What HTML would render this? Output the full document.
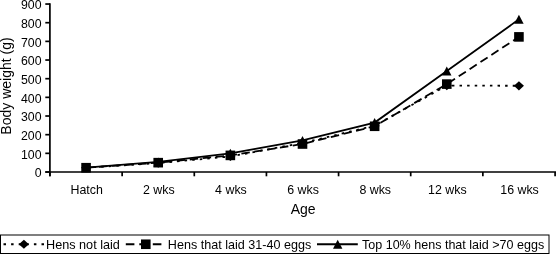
<!DOCTYPE html><html><head><meta charset="utf-8"><style>html,body{margin:0;padding:0;background:#fff;}svg{display:block;will-change:transform;}text{font-family:"Liberation Sans",sans-serif;fill:#000;}</style></head><body>
<svg width="556" height="254" viewBox="0 0 556 254">
<rect width="556" height="254" fill="#fff"/>
<line x1="49.9" y1="3.3" x2="49.9" y2="176.3" stroke="#000" stroke-width="1.7"/>
<line x1="45.3" y1="172.0" x2="556.0" y2="172.0" stroke="#000" stroke-width="1.7"/>
<line x1="45.3" y1="172.00" x2="49.9" y2="172.00" stroke="#000" stroke-width="1.7"/>
<text x="41.5" y="177.30" font-size="12.3" text-anchor="end">0</text>
<line x1="45.3" y1="153.34" x2="49.9" y2="153.34" stroke="#000" stroke-width="1.7"/>
<text x="41.5" y="158.64" font-size="12.3" text-anchor="end">100</text>
<line x1="45.3" y1="134.68" x2="49.9" y2="134.68" stroke="#000" stroke-width="1.7"/>
<text x="41.5" y="139.98" font-size="12.3" text-anchor="end">200</text>
<line x1="45.3" y1="116.01" x2="49.9" y2="116.01" stroke="#000" stroke-width="1.7"/>
<text x="41.5" y="121.31" font-size="12.3" text-anchor="end">300</text>
<line x1="45.3" y1="97.35" x2="49.9" y2="97.35" stroke="#000" stroke-width="1.7"/>
<text x="41.5" y="102.65" font-size="12.3" text-anchor="end">400</text>
<line x1="45.3" y1="78.69" x2="49.9" y2="78.69" stroke="#000" stroke-width="1.7"/>
<text x="41.5" y="83.99" font-size="12.3" text-anchor="end">500</text>
<line x1="45.3" y1="60.03" x2="49.9" y2="60.03" stroke="#000" stroke-width="1.7"/>
<text x="41.5" y="65.33" font-size="12.3" text-anchor="end">600</text>
<line x1="45.3" y1="41.37" x2="49.9" y2="41.37" stroke="#000" stroke-width="1.7"/>
<text x="41.5" y="46.67" font-size="12.3" text-anchor="end">700</text>
<line x1="45.3" y1="22.70" x2="49.9" y2="22.70" stroke="#000" stroke-width="1.7"/>
<text x="41.5" y="28.00" font-size="12.3" text-anchor="end">800</text>
<line x1="45.3" y1="4.04" x2="49.9" y2="4.04" stroke="#000" stroke-width="1.7"/>
<text x="41.5" y="9.34" font-size="12.3" text-anchor="end">900</text>
<line x1="49.90" y1="172.0" x2="49.90" y2="176.3" stroke="#000" stroke-width="1.7"/>
<line x1="122.14" y1="172.0" x2="122.14" y2="176.3" stroke="#000" stroke-width="1.7"/>
<line x1="194.29" y1="172.0" x2="194.29" y2="176.3" stroke="#000" stroke-width="1.7"/>
<line x1="266.43" y1="172.0" x2="266.43" y2="176.3" stroke="#000" stroke-width="1.7"/>
<line x1="338.57" y1="172.0" x2="338.57" y2="176.3" stroke="#000" stroke-width="1.7"/>
<line x1="410.71" y1="172.0" x2="410.71" y2="176.3" stroke="#000" stroke-width="1.7"/>
<line x1="482.86" y1="172.0" x2="482.86" y2="176.3" stroke="#000" stroke-width="1.7"/>
<line x1="555.10" y1="172.0" x2="555.10" y2="176.3" stroke="#000" stroke-width="1.7"/>
<text x="86.67" y="193.75" font-size="12.4" text-anchor="middle">Hatch</text>
<text x="158.81" y="193.75" font-size="12.4" text-anchor="middle">2 wks</text>
<text x="230.96" y="193.75" font-size="12.4" text-anchor="middle">4 wks</text>
<text x="303.10" y="193.75" font-size="12.4" text-anchor="middle">6 wks</text>
<text x="375.24" y="193.75" font-size="12.4" text-anchor="middle">8 wks</text>
<text x="447.39" y="193.75" font-size="12.4" text-anchor="middle">12 wks</text>
<text x="519.53" y="193.75" font-size="12.4" text-anchor="middle">16 wks</text>
<text x="303.2" y="213.6" font-size="14" text-anchor="middle">Age</text>
<text transform="translate(10.9,86) rotate(-90)" font-size="14" text-anchor="middle">Body weight (g)</text>
<polyline points="86.07,167.71 158.21,163.04 230.36,156.51 302.50,142.89 374.64,125.72 446.79,85.59 518.93,85.78" fill="none" stroke="#000" stroke-width="1.8" stroke-dasharray="2.5 5.1"/>
<polyline points="86.07,167.71 158.21,162.67 230.36,155.39 302.50,144.01 374.64,126.28 446.79,84.10 518.93,36.89" fill="none" stroke="#000" stroke-width="1.8" stroke-dasharray="8.5 4.5"/>
<polyline points="86.07,167.71 158.21,161.92 230.36,153.34 302.50,140.46 374.64,122.55 446.79,71.04 518.93,19.34" fill="none" stroke="#000" stroke-width="1.8"/>
<polygon points="86.07,163.11 91.07,167.71 86.07,172.31 81.07,167.71" fill="#000"/>
<polygon points="158.21,158.44 163.21,163.04 158.21,167.64 153.21,163.04" fill="#000"/>
<polygon points="230.36,151.91 235.36,156.51 230.36,161.11 225.36,156.51" fill="#000"/>
<polygon points="302.50,138.29 307.50,142.89 302.50,147.49 297.50,142.89" fill="#000"/>
<polygon points="374.64,121.12 379.64,125.72 374.64,130.32 369.64,125.72" fill="#000"/>
<polygon points="446.79,80.99 451.79,85.59 446.79,90.19 441.79,85.59" fill="#000"/>
<polygon points="518.93,81.18 523.93,85.78 518.93,90.38 513.93,85.78" fill="#000"/>
<rect x="81.27" y="162.91" width="9.60" height="9.60" fill="#000"/>
<rect x="153.41" y="157.87" width="9.60" height="9.60" fill="#000"/>
<rect x="225.56" y="150.59" width="9.60" height="9.60" fill="#000"/>
<rect x="297.70" y="139.21" width="9.60" height="9.60" fill="#000"/>
<rect x="369.84" y="121.48" width="9.60" height="9.60" fill="#000"/>
<rect x="441.99" y="79.30" width="9.60" height="9.60" fill="#000"/>
<rect x="514.13" y="32.09" width="9.60" height="9.60" fill="#000"/>
<polygon points="86.07,163.21 90.77,172.21 81.37,172.21" fill="#000"/>
<polygon points="158.21,157.42 162.91,166.42 153.51,166.42" fill="#000"/>
<polygon points="230.36,148.84 235.06,157.84 225.66,157.84" fill="#000"/>
<polygon points="302.50,135.96 307.20,144.96 297.80,144.96" fill="#000"/>
<polygon points="374.64,118.05 379.34,127.05 369.94,127.05" fill="#000"/>
<polygon points="446.79,66.54 451.49,75.54 442.09,75.54" fill="#000"/>
<polygon points="518.93,14.84 523.63,23.84 514.23,23.84" fill="#000"/>
<rect x="0.5" y="235" width="548.5" height="18.5" fill="none" stroke="#000" stroke-width="1"/>
<line x1="3.5" y1="244.25" x2="44.5" y2="244.25" stroke="#000" stroke-width="1.8" stroke-dasharray="2.5 5.1"/>
<polygon points="23.90,239.65 28.90,244.25 23.90,248.85 18.90,244.25" fill="#000"/>
<text x="46" y="248.9" font-size="12.4" textLength="73.9" lengthAdjust="spacingAndGlyphs">Hens not laid</text>
<line x1="125.8" y1="244.25" x2="161.8" y2="244.25" stroke="#000" stroke-width="1.8" stroke-dasharray="8.6 4.9"/>
<rect x="141.00" y="239.45" width="9.60" height="9.60" fill="#000"/>
<text x="167.8" y="248.9" font-size="12.4" textLength="143.4" lengthAdjust="spacingAndGlyphs">Hens that laid 31-40 eggs</text>
<line x1="317" y1="244.25" x2="357.8" y2="244.25" stroke="#000" stroke-width="1.8"/>
<polygon points="337.70,239.75 342.40,248.75 333.00,248.75" fill="#000"/>
<text x="362.0" y="248.9" font-size="12.4" textLength="182.2" lengthAdjust="spacingAndGlyphs">Top 10% hens that laid &gt;70 eggs</text>
</svg></body></html>
